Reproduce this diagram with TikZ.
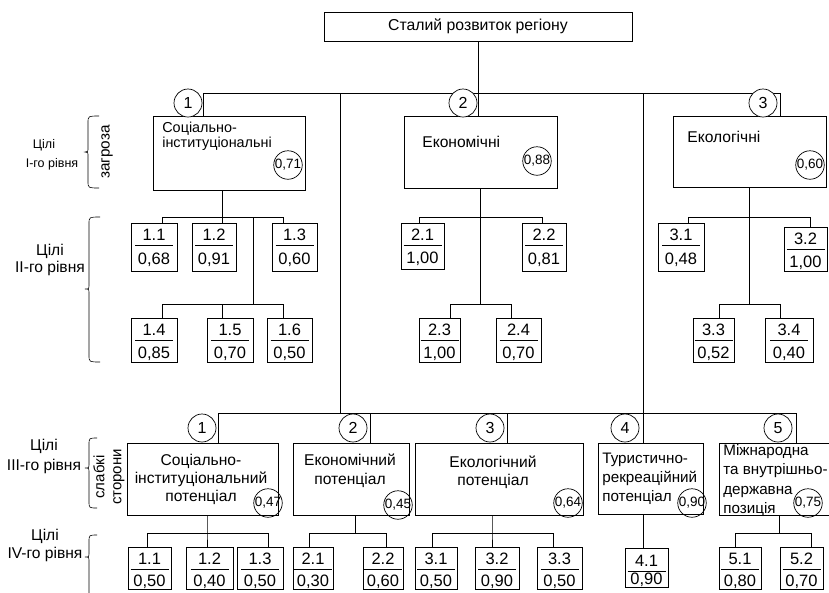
\documentclass[tikz,border=0pt]{standalone}
\usepackage{fontspec}
\setmainfont{Liberation Sans}
\usetikzlibrary{calc}
\newcommand\fb[9]{% name, cx, ytop, w, h, top, bottom, line offset, bottom baseline offset
  \node[fbx, minimum width=#4, minimum height=#5] (#1) at (#2,#3+#5/2) {};
  \draw ($(#1.north)+(-19,#8)$) -- ($(#1.north)+(19,#8)$);
  \node[fnum] at ($(#1.north)+(0,#8-5)$) {#6};
  \node[fnum] at ($(#1.north)+(0,#9)$) {#7};
}
\newcommand\mybrace[6]{% xend, xbody, xtip, ytop, ytip, ybot
  \draw[line width=0.6pt] (#1,#4) .. controls (#2,#4) .. (#2,#4+7) -- (#2,#5-5)
    .. controls (#2,#5) .. (#3,#5) .. controls (#2,#5) .. (#2,#5+5) -- (#2,#6-7)
    .. controls (#2,#6) .. (#1,#6);
}
\begin{document}
\begin{tikzpicture}[x=1pt,y=-1pt,line width=0.7pt,
  font=\fontsize{15.6}{18}\selectfont,
  box/.style={draw, inner sep=0pt},
  fbx/.style={draw, inner sep=0pt},
  fnum/.style={anchor=base, inner sep=0pt, font=\fontsize{16.5}{18}\selectfont},
  num/.style={draw, circle, minimum size=28pt, inner sep=0pt, fill=white, font=\fontsize{16}{16}\selectfont},
  val/.style={draw, circle, minimum size=27pt, inner sep=0pt, font=\fontsize{13.5}{14}\selectfont},
  tl/.style={anchor=base west, inner sep=0pt},
  tc/.style={anchor=base, inner sep=0pt},
  small/.style={font=\fontsize{14.4}{16}\selectfont},
  lab1/.style={anchor=base, inner sep=0pt, font=\fontsize{12.5}{14}\selectfont}]
\useasboundingbox (0,0) rectangle (829,592);

% ---------- top ----------
\node[box, minimum width=308, minimum height=29, font=\fontsize{15.8}{18}\selectfont] (top) at (478,26.5) {Сталий розвиток регіону};

% ---------- level I ----------
\node[box, minimum width=152, minimum height=74] (A1) at (229,153) {};
\node[box, minimum width=153, minimum height=72] (A2) at (480.5,152) {};
\node[box, minimum width=153, minimum height=71] (A3) at (749.5,151.5) {};
\node[tl, small] at (162,132) {Соціально-};
\node[tl, small] at (162,147) {інституціональні};
\node[tl] at (422,147) {Економічні};
\node[tl] at (687,142) {Екологічні};
\node[val] (v1) at (288,165) {0,71};
\node[val] (v2) at (537,161) {0,88};
\node[val] (v3) at (810,165) {0,60};

\coordinate (h0) at (203,93);
\coordinate (h3) at (780,93);
\coordinate (m1) at (340,93);
\coordinate (m2) at (643,93);
\draw (A1.north -| h0) -- (h0) -- (h3) -- (h3 |- A3.north);
\draw (top.south) -- (top.south |- A2.north);
\node[num] (n1) at (188,103) {1};
\node[num] (n2) at (463,103) {2};
\node[num] (n3) at (763,103) {3};

% ---------- level II, group 1 ----------
\fb{d11}{154}{223}{46}{48}{1.1}{0,68}{23}{42}
\fb{d12}{214}{223}{44}{48}{1.2}{0,91}{23}{42}
\fb{d13}{294.5}{223}{45}{48}{1.3}{0,60}{23}{42}
\fb{d14}{154}{318}{46}{44}{1.4}{0,85}{23}{41}
\fb{d15}{230}{318}{46}{44}{1.5}{0,70}{23}{41}
\fb{d16}{289.5}{318}{45}{44}{1.6}{0,50}{23}{41}
\coordinate (a1) at (222,217);
\coordinate (a1l) at (162,217);
\coordinate (a1r) at (283,217);
\coordinate (a1m) at (253,217);
\coordinate (a1b) at (253,304);
\coordinate (a1bl) at (162,304);
\coordinate (a1bm) at (222,304);
\coordinate (a1br) at (283,304);
\draw (A1.south -| a1) -- (a1);
\draw (a1l |- d11.north) -- (a1l) -- (a1r) -- (a1r |- d13.north);
\draw (a1) -- (a1 |- d12.north);
\draw (a1m) -- (a1b);
\draw (a1bl |- d14.north) -- (a1bl) -- (a1br) -- (a1br |- d16.north);
\draw (a1bm) -- (a1bm |- d15.north);

% ---------- level II, group 2 ----------
\fb{d21}{422.5}{223}{43}{46}{2.1}{1,00}{23}{41}
\fb{d22}{544}{223}{44}{48}{2.2}{0,81}{23}{42}
\fb{d23}{439.5}{318}{41}{44}{2.3}{1,00}{23}{41}
\fb{d24}{518.5}{318}{45}{44}{2.4}{0,70}{23}{41}
\coordinate (a2) at (480,217);
\coordinate (a2l) at (419,217);
\coordinate (a2r) at (542,217);
\coordinate (a2b) at (480,304);
\coordinate (a2bl) at (450,304);
\coordinate (a2br) at (511,304);
\draw (A2.south -| a2) -- (a2b);
\draw (a2l |- d21.north) -- (a2l) -- (a2r) -- (a2r |- d22.north);
\draw (a2bl |- d23.north) -- (a2bl) -- (a2br) -- (a2br |- d24.north);

% ---------- level II, group 3 ----------
\fb{d31}{681}{223}{46}{48}{3.1}{0,48}{23}{42}
\fb{d32}{805.5}{227}{43}{44}{3.2}{1,00}{23}{41}
\fb{d33}{713.5}{318}{41}{44}{3.3}{0,52}{23}{41}
\fb{d34}{789}{318}{48}{44}{3.4}{0,40}{23}{41}
\coordinate (a3) at (749,217);
\coordinate (a3l) at (688,217);
\coordinate (a3r) at (810,217);
\coordinate (a3b) at (749,304);
\coordinate (a3bl) at (719,304);
\coordinate (a3br) at (780,304);
\draw (A3.south -| a3) -- (a3b);
\draw (a3l |- d31.north) -- (a3l) -- (a3r) -- (a3r |- d32.north);
\draw (a3bl |- d33.north) -- (a3bl) -- (a3br) -- (a3br |- d34.north);

% ---------- level III ----------
\node[box, minimum width=151, minimum height=72] (B1) at (202.5,479) {};
\node[box, minimum width=116, minimum height=72] (B2) at (351,479) {};
\node[box, minimum width=168, minimum height=72] (B3) at (499,479) {};
\node[box, minimum width=105, minimum height=71] (B4) at (650.5,478.5) {};
\node[box, minimum width=120, minimum height=72] (B5) at (779,479) {};

\node[tc] at (201,465) {Соціально-};
\node[tc] at (201,483.5) {інституціональний};
\node[tc] at (201,501) {потенціал};
\node[tc] at (350,465) {Економічний};
\node[tc] at (350,484) {потенціал};
\node[tc] at (493,467) {Екологічний};
\node[tc] at (493,485) {потенціал};
\node[tl, font=\fontsize{15.2}{18}\selectfont] at (602,463) {Туристично-};
\node[tl, font=\fontsize{15.2}{18}\selectfont] at (602,482) {рекреаційний};
\node[tl, font=\fontsize{15.2}{18}\selectfont] at (602,501) {потенціал};
\node[tl, font=\fontsize{15.2}{18}\selectfont] at (723,455) {Міжнародна};
\node[tl, font=\fontsize{15.2}{18}\selectfont] at (723,474) {та внутрішньо-};
\node[tl, font=\fontsize{15.2}{18}\selectfont] at (723,494) {державна};
\node[tl, font=\fontsize{15.2}{18}\selectfont] at (723,513) {позиція};

\node[val] (w1) at (268,503) {0,47};
\node[val] (w2) at (398,505) {0,45};
\node[val] (w3) at (568,503) {0,64};
\node[val] (w4) at (692,503) {0,90};
\node[val] (w5) at (808,503) {0,75};

\coordinate (b0) at (218,413);
\coordinate (b2) at (370,413);
\coordinate (b3) at (507,413);
\coordinate (b4) at (643,413);
\coordinate (b5) at (796,413);
\coordinate (bm) at (340,413);
\draw (m1) -- (bm);
\draw (m2) -- (m2 |- B4.north);
\draw (b0 |- B1.north) -- (b0) -- (b5) -- (b5 |- B5.north);
\draw (b2) -- (b2 |- B2.north);
\draw (b3) -- (b3 |- B3.north);
\node[num] (k1) at (202,428) {1};
\node[num] (k2) at (353,428) {2};
\node[num] (k3) at (490,428) {3};
\node[num] (k4) at (625,428) {4};
\node[num] (k5) at (778,428) {5};

% ---------- level IV ----------
\fb{c11}{149.5}{547}{43}{42}{1.1}{0,50}{23}{40}
\fb{c12}{209.5}{547}{47}{42}{1.2}{0,40}{23}{40}
\fb{c13}{260}{547}{46}{42}{1.3}{0,50}{23}{40}
\fb{c21}{313}{547}{40}{42}{2.1}{0,30}{23}{40}
\fb{c22}{383}{547}{40}{42}{2.2}{0,60}{23}{40}
\fb{c31}{436}{547}{42}{42}{3.1}{0,50}{23}{40}
\fb{c32}{497}{547}{44}{42}{3.2}{0,90}{23}{40}
\fb{c33}{559.5}{547}{45}{42}{3.3}{0,50}{23}{40}
\fb{c41}{646.5}{548}{43}{39}{4.1}{0,90}{24}{37}
\fb{c51}{740}{547}{42}{42}{5.1}{0,80}{23}{40}
\fb{c52}{801.5}{547}{43}{42}{5.2}{0,70}{23}{40}

\coordinate (e1) at (207,533);
\coordinate (e1l) at (147,533);
\coordinate (e1r) at (268,533);
\draw (B1.south -| e1) -- (e1) -- (e1 |- c12.north);
\draw (e1l |- c11.north) -- (e1l) -- (e1r) -- (e1r |- c13.north);
\coordinate (e2) at (355,533);
\coordinate (e2l) at (309,533);
\coordinate (e2r) at (386,533);
\draw (B2.south -| e2) -- (e2);
\draw (e2l |- c21.north) -- (e2l) -- (e2r) -- (e2r |- c22.north);
\coordinate (e3) at (492,533);
\coordinate (e3l) at (432,533);
\coordinate (e3r) at (553,533);
\draw (B3.south -| e3) -- (e3) -- (e3 |- c32.north);
\draw (e3l |- c31.north) -- (e3l) -- (e3r) -- (e3r |- c33.north);
\coordinate (e4) at (643,533);
\draw (B4.south -| e4) -- (e4 |- c41.north);
\coordinate (e5) at (779,533);
\coordinate (e5l) at (735,533);
\coordinate (e5r) at (811,533);
\draw (B5.south -| e5) -- (e5);
\draw (e5l |- c51.north) -- (e5l) -- (e5r) -- (e5r |- c52.north);

% ---------- left labels ----------
\node[lab1] at (44,148) {Цілі};
\node[lab1] at (52,167) {I-го рівня};
\node[tc] at (50,255) {Цілі};
\node[tc] at (50,272) {II-го рівня};
\node[tc] at (44,450) {Цілі};
\node[tc] at (44,470) {III-го рівня};
\node[tc] at (45,540) {Цілі};
\node[tc] at (45,558) {IV-го рівня};

\mybrace{99}{88}{85}{116}{152}{188}
\mybrace{100}{89}{85}{217}{289}{362}
\mybrace{97}{89}{85}{438}{468}{508}
\mybrace{97}{89}{85}{535}{557}{610}

\node[rotate=90, inner sep=0pt, font=\fontsize{15.3}{18}\selectfont] at (107,152) {загроза};
\node[rotate=90, inner sep=0pt, align=center, font=\fontsize{15}{17}\selectfont] at (109,477) {слабкі\\сторони};
\end{tikzpicture}
\end{document}
